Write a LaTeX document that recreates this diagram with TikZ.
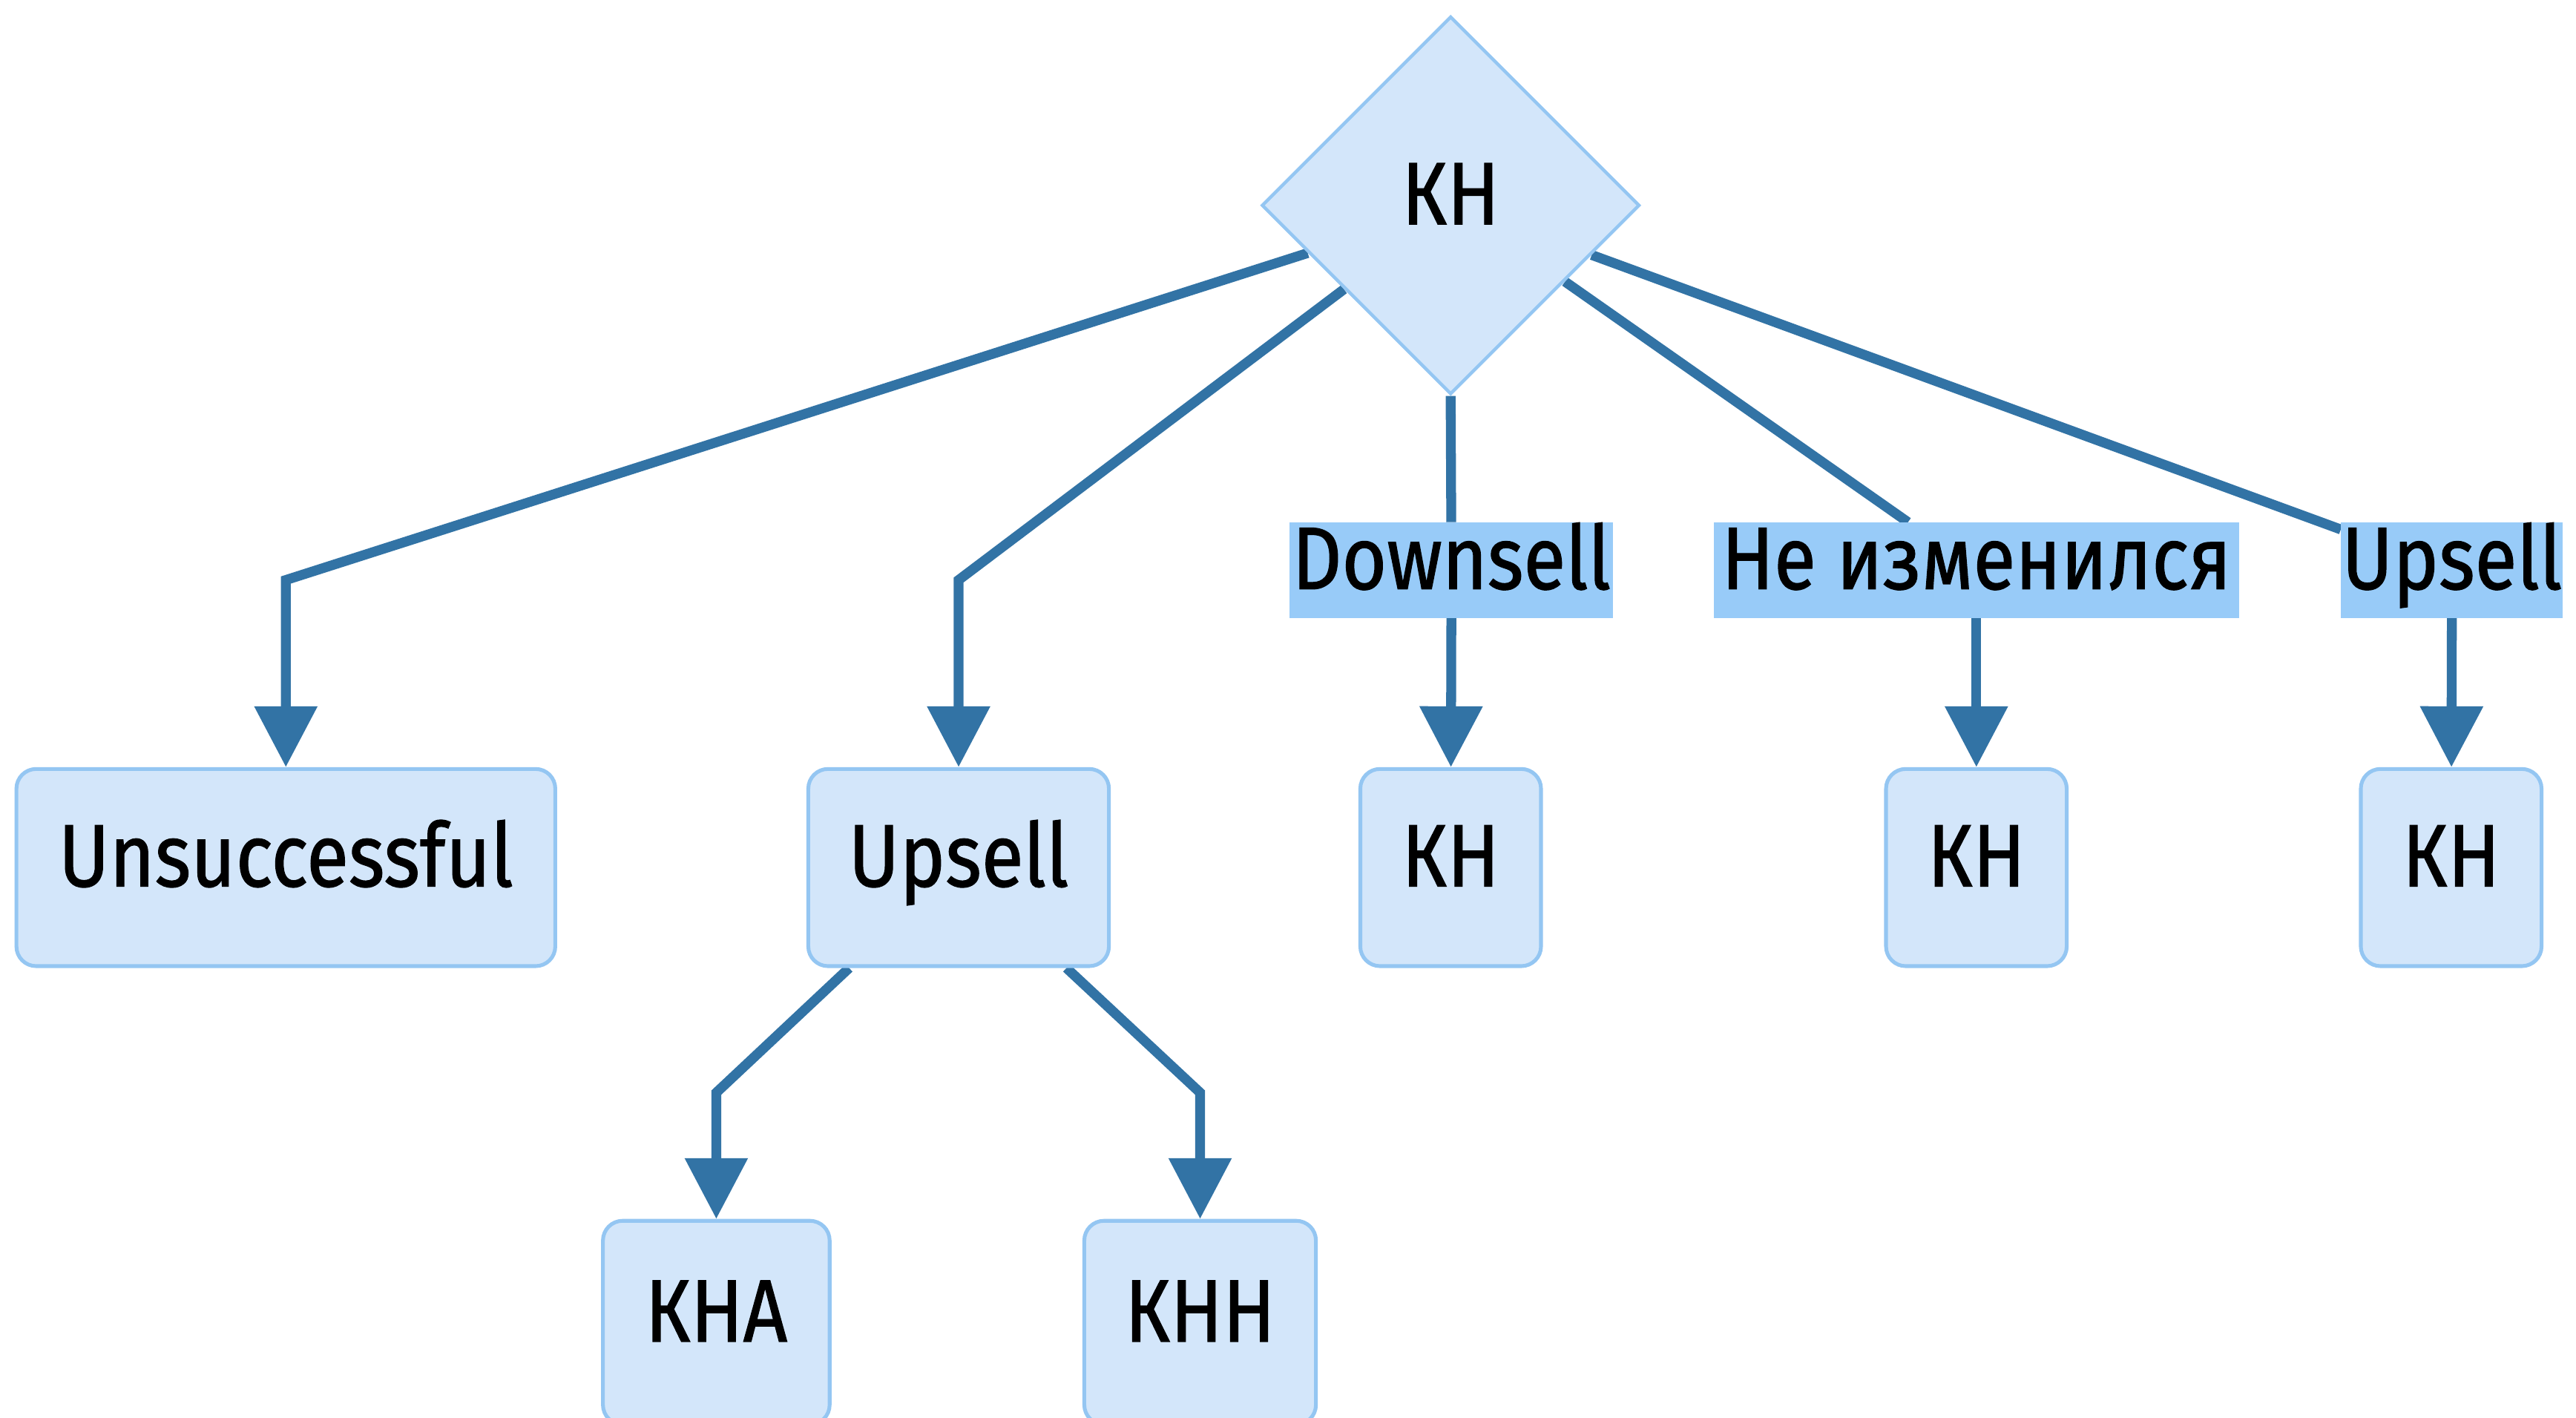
\documentclass[tikz,border=0pt]{standalone}
\usepackage{fontspec}
\setmainfont{Fira Sans}[FakeStretch=0.87, FakeBold=1]
\usetikzlibrary{shapes.geometric,arrows.meta,calc,backgrounds}
\definecolor{nodefill}{RGB}{211,230,250}
\definecolor{nodeborder}{RGB}{148,198,242}
\definecolor{edgecol}{RGB}{50,115,165}
\definecolor{labelbg}{RGB}{152,203,248}
\begin{document}
\begin{tikzpicture}[x=1pt,y=-1pt,
  font=\fontsize{54}{64}\selectfont,
  every node/.style={text height=37pt, text depth=14pt},
  box/.style={draw=nodeborder, line width=2.3pt, fill=nodefill, rounded corners=12pt, inner sep=0pt, minimum height=120pt},
  diam/.style={shape=diamond, draw=nodeborder, line width=2pt, fill=nodefill, inner sep=0pt, minimum width=230pt, minimum height=230pt, aspect=1},
  lab/.style={fill=labelbg, inner sep=0pt, minimum height=58pt},
  plainedge/.style={draw=edgecol, line width=6pt},
  edgeline/.style={plainedge, -{Triangle[width=37pt,length=37pt]}}]
\useasboundingbox (0,0) rectangle (1568,863);
% nodes
\node[diam] (d) at (883,125) {КН};
\node[box, minimum width=328pt] (u) at (174,528) {Unsuccessful};
\node[box, minimum width=183pt] (up) at (583.5,528) {Upsell};
\node[box, minimum width=110pt] (k1) at (883,528) {КН};
\node[box, minimum width=110pt] (k2) at (1203,528) {КН};
\node[box, minimum width=110pt] (k3) at (1492,528) {КН};
\node[box, minimum width=138pt, minimum height=124pt] (kna) at (436,805) {КНА};
\node[box, minimum width=141pt, minimum height=124pt] (knn) at (730.5,805) {КНН};
% labels
\node[lab, minimum width=197pt] (l1) at (883.5,347) {Downsell};
\node[lab, minimum width=320pt] (l2) at (1203,347) {Не изменился};
\node[lab, minimum width=135pt] (l3) at (1492.5,347) {Upsell};
% connector points
\coordinate (s1) at ($(d.west)!0.25!(d.south)$);
\coordinate (s2) at ($(d.west)!0.44!(d.south)$);
\coordinate (s4) at ($(d.east)!0.40!(d.south)$);
\coordinate (s5) at ($(d.east)!0.26!(d.south)$);
\coordinate (b1) at (174,353);
\coordinate (b2) at (583.5,353);
\coordinate (s6) at ($(up.south west)+(26,0)$);
\coordinate (s7) at ($(up.south east)+(-27,0)$);
\coordinate (b6) at (436,665);
\coordinate (b7) at (730.5,665);
\begin{scope}[on background layer]
\fill[white] (0,0) rectangle (1568,863);
\draw[edgeline] (s1) -- (b1) -- (u);
\draw[edgeline] (s2) -- (b2) -- (up);
\draw[plainedge] (d.south) -- (l1);
\draw[edgeline] (l1) -- (k1);
\draw[plainedge] (s4) -- (l2);
\draw[edgeline] (l2) -- (k2);
\draw[plainedge] (s5) -- (l3);
\draw[edgeline] (l3) -- (k3);
\draw[edgeline] (s6) -- (b6) -- (kna);
\draw[edgeline] (s7) -- (b7) -- (knn);
\end{scope}
\end{tikzpicture}
\end{document}
